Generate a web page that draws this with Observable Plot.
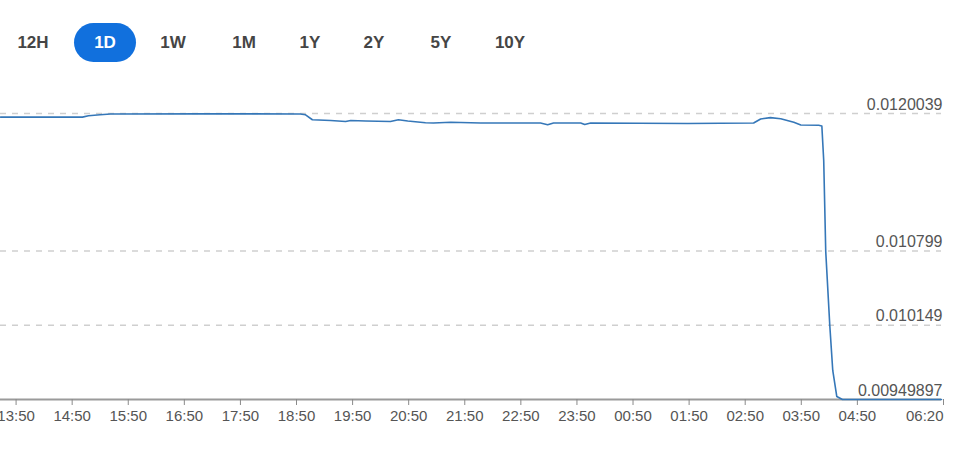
<!DOCTYPE html>
<html><head><meta charset="utf-8">
<script src="https://cdn.jsdelivr.net/npm/d3@7"></script>
<script src="https://cdn.jsdelivr.net/npm/@observablehq/plot@0.6"></script>
<style>
html,body{margin:0;padding:0;background:#fff;}
#wrap{width:960px;height:450px;position:relative;overflow:hidden;font-family:"Liberation Sans",Arial,sans-serif;}
#btns{position:relative;height:80px;}
.btn{position:absolute;top:43px;transform:translate(-50%,-50%);font-weight:bold;font-size:17px;color:#454545;white-space:nowrap;}
.btn.active{color:#fff;}
.pill{position:absolute;left:74px;top:23px;width:62px;height:39px;border-radius:20px;background:#1170dd;}
#chart svg{display:block;}
</style></head>
<body><div id="wrap"><div id="btns"></div><div id="chart"></div></div>
<script>
// ---- data ----
const buttons = ["12H","1D","1W","1M","1Y","2Y","5Y","10Y"];
const activeButton = "1D";
const xTickLabels = ["13:50","14:50","15:50","16:50","17:50","18:50","19:50","20:50","21:50","22:50","23:50","00:50","01:50","02:50","03:50","04:50","06:20"];
const yTicks = [0.0120039, 0.010799, 0.010149, 0.00949897];
const yTickLabels = ["0.0120039","0.010799","0.010149","0.00949897"];
const xStart = "13:33:20";
const xEnd = "06:20:00";
const times = ["13:33:20","15:01:00","15:07:30","15:20:00","15:31:00","17:07:00","18:54:00","18:59:40","19:07:00","19:26:30","19:42:30","19:48:00","20:04:00","20:30:30","20:39:00","20:49:00","21:08:00","21:16:30","21:35:00","22:07:00","23:11:00","23:18:40","23:25:00","23:54:00","23:58:20","00:04:40","01:48:30","02:59:00","03:06:30","03:17:00","03:28:00","03:42:00","03:49:30","04:08:40","04:12:00","04:14:00","04:16:10","04:20:30","04:23:40","04:28:00","04:34:00","06:20:00"];
const values = [0.0119720,0.0119720,0.0119840,0.0119925,0.0119990,0.0120010,0.0120000,0.0119925,0.0119490,0.0119420,0.0119335,0.0119420,0.0119385,0.0119335,0.0119490,0.0119385,0.0119230,0.0119210,0.0119270,0.0119210,0.0119210,0.0119050,0.0119210,0.0119210,0.0119070,0.0119210,0.0119160,0.0119210,0.0119560,0.0119680,0.0119585,0.0119270,0.0119035,0.0119010,0.0118950,0.0115923,0.0107950,0.0101470,0.0097530,0.0095250,0.00949897,0.00949897];

// ---- helpers ----
function toDate(s){
  const [h,m,sec] = s.split(":").map(Number);
  const day = h < 12 ? 2 : 1;
  return new Date(Date.UTC(2024,0,day,h,m,sec||0));
}
const data = times.map((t,i)=>({t: toDate(t), v: values[i]}));
const tickDates = xTickLabels.map(toDate);
const endDate = toDate(xEnd);

// ---- buttons ----
const btnCenters = [33,105,173,244,310,374,441,510];
const btns = document.getElementById("btns");
const pill = document.createElement("div"); pill.className = "pill"; btns.appendChild(pill);
buttons.forEach((b,i)=>{
  const s = document.createElement("span");
  s.className = "btn" + (b === activeButton ? " active" : "");
  s.style.left = btnCenters[i] + "px";
  s.textContent = b;
  btns.appendChild(s);
});

// ---- chart ----
const axisCommon = {tickFormat: d3.utcFormat("%H:%M"), tickSize: 6, tickPadding: 5, fontSize: 15, stroke: "#8a8a8a", fill: "#555", label: null};
const chart = Plot.plot({
  width: 960, height: 370,
  marginLeft: 0, marginRight: 19, marginTop: 33, marginBottom: 51,
  x: {type: "utc", domain: [toDate(xStart), endDate], label: null},
  y: {domain: [yTicks[3], yTicks[0]], axis: null},
  style: {fontFamily: "Liberation Sans, Arial, sans-serif", color: "#555", background: "#fff", overflow: "visible"},
  marks: [
    Plot.ruleY(yTicks.slice(0,3), {stroke: "#cfcfcf", strokeWidth: 1.5, strokeDasharray: "6,6"}),
    Plot.ruleY([yTicks[3]], {stroke: "#9a9a9a", strokeWidth: 2}),
    Plot.axisX({...axisCommon, ticks: tickDates.slice(0, -1)}),
    Plot.axisX({...axisCommon, ticks: tickDates.slice(-1), textAnchor: "end", dx: 2}),
    Plot.line(data, {x: "t", y: "v", stroke: "#3577b8", strokeWidth: 1.6}),
    Plot.text(yTicks, {x: () => endDate, y: d => d, text: (d,i) => yTickLabels[i], textAnchor: "end", lineAnchor: "bottom", dy: -4, dx: 1, fontSize: 16, fill: "#555"})
  ]
});
document.getElementById("chart").appendChild(chart);
</script>
</body></html>
